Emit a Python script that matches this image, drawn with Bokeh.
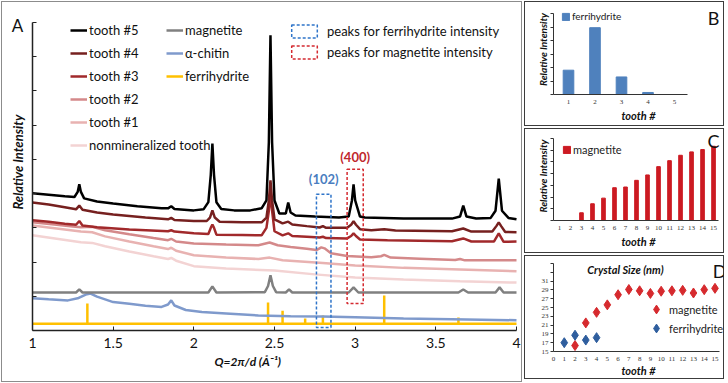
import math
from bokeh.plotting import figure
from bokeh.layouts import row, column
from bokeh.models import Range1d, FixedTicker, Legend, LegendItem, Label, Title
from bokeh.embed import file_html
from bokeh.resources import INLINE

SANS = "Lato"
SERIF = "Liberation Serif"

# ---------------- Panel A data: XRD patterns (Q in 1/Angstrom, offset relative intensity) -------------
Q_MIN, Q_MAX = 1.0, 4.0
I_MAX = 90
q_ticks = [1, 1.5, 2, 2.5, 3, 3.5, 4]

q_t5 = [1.00, 1.10, 1.20, 1.26, 1.28, 1.29, 1.30, 1.32, 1.40, 1.50, 1.65, 1.80, 1.84, 1.86, 1.88, 2.00,
        2.06, 2.09, 2.105, 2.115, 2.125, 2.14, 2.17, 2.25, 2.35, 2.42, 2.45, 2.465, 2.475, 2.485, 2.50,
        2.53, 2.57, 2.585, 2.60, 2.63, 2.75, 2.90, 2.96, 2.98, 2.99, 3.00, 3.03, 3.06, 3.30, 3.60, 3.65,
        3.67, 3.69, 3.75, 3.84, 3.87, 3.89, 3.91, 3.95, 4.00]
i_t5 = [40.1, 39.7, 39.2, 39.0, 40.5, 42.7, 40.5, 38.6, 37.7, 37.1, 36.3, 35.7, 35.7, 36.3, 35.5, 35.1,
        35.4, 37.5, 45.5, 54.6, 45.5, 37.5, 35.5, 35.1, 35.1, 35.7, 38.0, 55.0, 86.3, 55.0, 38.0,
        34.2, 34.2, 37.4, 34.5, 33.6, 33.3, 33.0, 33.3, 38.0, 42.7, 38.0, 33.3, 33.0, 32.7, 32.7, 33.3,
        36.5, 33.3, 32.7, 32.9, 35.0, 44.4, 35.0, 32.9, 32.5]

q_t4 = [1.00, 1.10, 1.20, 1.27, 1.29, 1.31, 1.40, 1.50, 1.70, 1.84, 1.86, 1.88, 2.00, 2.08, 2.10, 2.115,
        2.13, 2.16, 2.30, 2.42, 2.45, 2.465, 2.475, 2.485, 2.50, 2.55, 2.585, 2.61, 2.70, 2.78, 2.80, 2.82,
        2.95, 2.975, 2.99, 3.005, 3.03, 3.10, 3.18, 3.25, 3.60, 3.67, 3.72, 3.85, 3.875, 3.89, 3.905, 3.93,
        4.00]
i_t4 = [37.4, 36.8, 36.0, 35.4, 36.5, 35.3, 34.5, 33.9, 33.0, 32.5, 32.9, 32.3, 32.0, 32.0, 33.0, 35.1,
        33.0, 31.8, 31.6, 31.6, 33.0, 38.0, 43.9, 38.0, 32.5, 31.3, 31.8, 31.0, 30.5, 30.1, 30.5, 30.0,
        30.0, 30.9, 31.9, 30.9, 29.6, 29.3, 29.6, 29.2, 29.0, 29.8, 28.9, 28.9, 30.5, 31.6, 30.5, 28.8,
        28.7]

q_t3 = [1.00, 1.10, 1.20, 1.27, 1.29, 1.31, 1.40, 1.60, 1.84, 1.86, 1.88, 2.00, 2.09, 2.105, 2.115, 2.125,
        2.14, 2.30, 2.42, 2.45, 2.465, 2.475, 2.485, 2.50, 2.55, 2.585, 2.61, 2.70, 2.78, 2.80, 2.82, 2.95,
        2.975, 2.99, 3.005, 3.03, 3.20, 3.60, 3.67, 3.72, 3.86, 3.89, 3.92, 4.00]
i_t3 = [32.2, 31.8, 31.2, 30.9, 32.0, 30.7, 30.2, 29.5, 29.0, 29.3, 28.9, 28.4, 28.2, 30.0, 31.0, 30.0,
        28.0, 27.9, 27.8, 30.0, 35.0, 40.0, 35.0, 29.0, 27.8, 28.4, 27.6, 27.4, 27.2, 27.4, 27.0, 26.9,
        27.6, 28.4, 27.6, 26.6, 26.4, 26.1, 26.9, 26.0, 26.0, 28.4, 25.9, 26.0]

q_t2 = [1.00, 1.15, 1.25, 1.30, 1.37, 1.45, 1.60, 1.75, 1.84, 1.86, 1.89, 2.00, 2.20, 2.40, 2.47, 2.52,
        2.60, 2.70, 2.76, 2.79, 2.81, 2.85, 2.95, 3.10, 3.16, 3.18, 3.22, 3.40, 3.62, 3.65, 3.68, 4.00]
i_t2 = [31.6, 30.9, 30.4, 30.2, 30.3, 29.3, 28.1, 27.0, 26.4, 26.8, 26.0, 25.4, 25.1, 24.9, 25.7, 24.9,
        24.4, 23.9, 23.5, 24.3, 24.0, 22.6, 21.8, 21.4, 21.7, 22.1, 21.3, 21.0, 20.6, 20.9, 20.5, 20.5]

q_t1 = [1.00, 1.15, 1.30, 1.37, 1.45, 1.60, 1.75, 1.84, 1.86, 1.89, 2.00, 2.20, 2.40, 2.47, 2.55, 2.80,
        3.00, 3.30, 3.65, 4.00]
i_t1 = [30.7, 29.8, 28.9, 28.7, 27.5, 26.0, 24.6, 23.8, 24.2, 23.3, 22.0, 21.3, 20.9, 21.3, 20.5, 19.7,
        19.0, 18.3, 17.8, 17.3]

q_t0 = [1.00, 1.15, 1.30, 1.37, 1.45, 1.60, 1.75, 1.84, 1.86, 1.89, 2.00, 2.20, 2.50, 2.75, 3.00, 3.30,
        3.65, 4.00]
i_t0 = [27.8, 26.8, 25.8, 25.6, 24.6, 23.1, 21.7, 20.9, 21.2, 20.4, 18.8, 18.1, 17.5, 16.4, 15.5, 14.9,
        14.4, 14.0]

q_mag = [1.00, 1.27, 1.29, 1.31, 2.09, 2.115, 2.14, 2.44, 2.46, 2.475, 2.49, 2.51, 2.57, 2.59, 2.61, 2.96,
         2.99, 3.02, 3.64, 3.67, 3.70, 3.87, 3.895, 3.92, 4.00]
i_mag = [11.1, 11.1, 12.0, 11.1, 11.1, 12.9, 11.1, 11.2, 13.0, 16.1, 13.0, 11.2, 11.1, 12.0, 11.1, 11.1,
         12.6, 11.1, 11.1, 12.0, 11.1, 11.1, 12.6, 11.1, 11.1]

q_chitin = [1.00, 1.10, 1.22, 1.28, 1.33, 1.36, 1.40, 1.50, 1.60, 1.70, 1.80, 1.84, 1.86, 1.88, 1.95, 2.05,
            2.20, 2.40, 2.60, 2.80, 3.00, 3.30, 3.60, 4.00]
i_chitin = [9.4, 9.1, 8.8, 9.4, 10.5, 10.8, 9.9, 8.3, 7.8, 7.2, 6.9, 7.6, 8.8, 7.3, 6.0, 5.4,
            5.0, 4.4, 4.2, 4.1, 3.9, 3.5, 3.3, 3.0]

fh_q = [1.34, 2.46, 2.55, 2.69, 2.80, 3.18, 3.64]
fh_i = [7.9, 8.2, 5.8, 3.5, 4.4, 10.2, 3.8]
fh_base = 2.0

box_fh = dict(left=2.76, right=2.85, bottom=0.9, top=39.8)
box_mag = dict(left=2.95, right=3.05, bottom=7.9, top=47.1)
label_fh = dict(x=2.805, y=44.3, text="(102)")
label_mag = dict(x=3.0, y=50.6, text="(400)")

# ---------------- Panels B, C, D data -------------
teeth_b = [1, 2, 3, 4, 5]
fh_intensity = [1.8, 4.95, 1.3, 0.15, 0.0]

teeth_c = list(range(1, 16))
mag_intensity = [0.0, 0.0, 0.66, 1.43, 1.91, 2.8, 2.86, 3.43, 3.89, 4.6, 5.11, 5.57, 5.86, 6.06, 6.34]

teeth_d_mag = list(range(2, 16))
size_mag = [16.35, 21.5, 23.9, 25.6, 27.9, 29.1, 28.8, 28.2, 28.7, 28.8, 28.9, 28.3, 29.05, 29.35]
teeth_d_fh = [1, 2, 3, 4]
size_fh = [17.0, 18.7, 17.6, 18.15]
d_yticks = list(range(15, 36, 2))
d_ylabels_hidden = [33, 35]

# colours
C_T5, C_T4, C_T3, C_T2, C_T1, C_T0 = "#000000", "#76201F", "#A1292B", "#D4898A", "#E8B2B1", "#F3D3D3"
C_MAG, C_CHI, C_FH = "#808080", "#7F9ACC", "#FFC000"
C_BLUE_BOX, C_RED_BOX = "#2E74C9", "#D42A30"
C_BAR_B, C_BAR_C = "#4F81BD", "#CC1A22"
C_D_MAG, C_D_FH = "#D62A2E", "#2F5E9E"

A_STYLE = {"outline": "1.5px solid #8C8C8C", "outline-offset": "-2px"}
S_STYLE = {"outline": "1.5px solid #3C3C3C", "outline-offset": "-2px"}


def transparent(p):
    p.background_fill_color = None
    p.border_fill_color = None
    p.outline_line_color = None
    p.xgrid.grid_line_color = None
    p.ygrid.grid_line_color = None


# ================= Panel A =================
pA = figure(width=523, height=383, x_range=Range1d(0.8264, 4.031), y_range=Range1d(0, 95.26),
            output_backend="svg", toolbar_location=None, styles=A_STYLE,
            min_border_left=4, min_border_right=2, min_border_top=4, min_border_bottom=53)
transparent(pA)
xa = pA.xaxis[0]
xa.ticker = FixedTicker(ticks=q_ticks)
xa.bounds = (Q_MIN, Q_MAX)
xa.major_label_overrides = {1: "1", 2: "2", 3: "3", 4: "4"}
xa.major_tick_in = 4
xa.major_tick_out = 0
xa.minor_tick_line_color = None
xa.axis_line_width = 1.5
xa.axis_line_color = "#222222"
xa.major_tick_line_color = "#222222"
xa.major_label_text_font = SANS
xa.major_label_text_font_size = "14px"
xa.major_label_text_color = "#111111"
xa.major_label_standoff = 7
ya = pA.yaxis[0]
ya.fixed_location = Q_MIN
ya.bounds = (0, I_MAX)
ya.ticker = FixedTicker(ticks=list(range(0, I_MAX + 1, 10)))
ya.major_label_overrides = {v: "" for v in range(0, I_MAX + 1, 10)}
ya.major_label_standoff = 0
ya.major_tick_in = 4
ya.major_tick_out = 0
ya.minor_tick_line_color = None
ya.axis_line_width = 1.5
ya.axis_line_color = "#222222"
ya.major_tick_line_color = "#222222"

r_fh_base = pA.line([Q_MIN, Q_MAX], [fh_base, fh_base], line_color=C_FH, line_width=2.5)
r_fh = pA.segment(x0=fh_q, y0=[fh_base] * len(fh_q), x1=fh_q, y1=fh_i, line_color=C_FH, line_width=2.5)
r_chi = pA.line(q_chitin, i_chitin, line_color=C_CHI, line_width=2.5)
r_mag = pA.line(q_mag, i_mag, line_color=C_MAG, line_width=2.5)
r_t0 = pA.line(q_t0, i_t0, line_color=C_T0, line_width=2.5)
r_t1 = pA.line(q_t1, i_t1, line_color=C_T1, line_width=2.5)
r_t2 = pA.line(q_t2, i_t2, line_color=C_T2, line_width=2.5)
r_t3 = pA.line(q_t3, i_t3, line_color=C_T3, line_width=2.5)
r_t4 = pA.line(q_t4, i_t4, line_color=C_T4, line_width=2.5)
r_t5 = pA.line(q_t5, i_t5, line_color=C_T5, line_width=2.5)

r_bfh = pA.quad(left=[box_fh["left"]], right=[box_fh["right"]], bottom=[box_fh["bottom"]], top=[box_fh["top"]],
                fill_color=None, line_color=C_BLUE_BOX, line_width=1.5, line_dash="3 2")
r_bmag = pA.quad(left=[box_mag["left"]], right=[box_mag["right"]], bottom=[box_mag["bottom"]], top=[box_mag["top"]],
                 fill_color=None, line_color=C_RED_BOX, line_width=1.5, line_dash="3 2")

pA.add_layout(Label(x=label_fh["x"], y=label_fh["y"], text=label_fh["text"], text_align="center",
                    text_baseline="middle", text_font=SANS, text_font_size="13px", text_font_style="bold",
                    text_color="#4A7DC0"))
pA.add_layout(Label(x=label_mag["x"], y=label_mag["y"], text=label_mag["text"], text_align="center",
                    text_baseline="middle", text_font=SANS, text_font_size="13px", text_font_style="bold",
                    text_color="#C0272D"))


def mk_legend(items, loc, gw, gh, lh, spacing, standoff, size="13px"):
    return Legend(items=items, location=loc, glyph_width=gw, glyph_height=gh, label_height=lh,
                  spacing=spacing, padding=0, margin=0, label_standoff=standoff,
                  border_line_color=None, background_fill_alpha=0,
                  label_text_font=SANS, label_text_font_size=size, label_text_color="#111111")


pA.add_layout(mk_legend([LegendItem(label="tooth #5", renderers=[r_t5]),
                         LegendItem(label="tooth #4", renderers=[r_t4]),
                         LegendItem(label="tooth #3", renderers=[r_t3]),
                         LegendItem(label="tooth #2", renderers=[r_t2]),
                         LegendItem(label="tooth #1", renderers=[r_t1]),
                         LegendItem(label="nonmineralized tooth", renderers=[r_t0])],
                        (66, 175), 17, 20, 20, 3, 2))
pA.add_layout(mk_legend([LegendItem(label="magnetite", renderers=[r_mag]),
                         LegendItem(label="\u03b1-chitin", renderers=[r_chi]),
                         LegendItem(label="ferrihydrite", renderers=[r_fh_base])],
                        (162, 244), 17, 20, 20, 3, 2))
pA.add_layout(mk_legend([LegendItem(label="peaks for ferrihydrite intensity", renderers=[r_bfh]),
                         LegendItem(label="peaks for magnetite intensity", renderers=[r_bmag])],
                        (284, 270), 32, 16, 16, 5, 7))

pA.add_layout(Label(x=0.907, y=89.1, text="A", text_align="center",
                    text_baseline="middle", text_font=SANS, text_font_size="17px", text_color="#111111"))
pA.add_layout(Label(x=0.910, y=49.2, text="Relative Intensity",
                    angle=math.pi / 2, text_align="center", text_baseline="middle", text_font=SANS,
                    text_font_size="13px", text_font_style="bold italic", text_color="#111111"))
pA.add_layout(Title(text="Q=2\u03c0/d (\u00c5\u207b\u00b9)", align="left", offset=210, standoff=3,
                    text_font=SANS, text_font_size="12px", text_font_style="bold italic",
                    text_color="#111111"), "below")


# ================= helpers for small panels =================
def style_small(p, xticks, xbounds, yticks, ybounds, ylabels=True, hide=()):
    transparent(p)
    for ax in (p.xaxis[0], p.yaxis[0]):
        ax.axis_line_color = "#333333"
        ax.axis_line_width = 1
        ax.major_tick_line_color = "#333333"
        ax.minor_tick_line_color = None
        ax.major_label_text_font = SERIF
        ax.major_label_text_font_size = "7px"
        ax.major_label_text_color = "#333333"
        ax.axis_label_text_font = SANS
        ax.axis_label_text_font_style = "bold italic"
        ax.axis_label_text_font_size = "11px"
        ax.axis_label_text_color = "#111111"
    p.xaxis[0].ticker = FixedTicker(ticks=xticks)
    p.xaxis[0].bounds = xbounds
    p.xaxis[0].major_tick_in = 0
    p.xaxis[0].major_tick_out = 0
    p.xaxis[0].major_label_standoff = 5
    p.xaxis[0].axis_label_standoff = 2
    p.yaxis[0].ticker = FixedTicker(ticks=yticks)
    p.yaxis[0].bounds = ybounds
    p.yaxis[0].major_tick_in = 0
    p.yaxis[0].major_tick_out = 3
    p.yaxis[0].major_label_standoff = 2
    p.yaxis[0].axis_label_standoff = 2
    if not ylabels:
        p.yaxis[0].major_label_overrides = {v: "" for v in yticks}
    else:
        p.yaxis[0].major_label_overrides = {v: "" for v in hide}


def corner(p, x, y, t):
    p.add_layout(Label(x=x, y=y, x_units="screen", y_units="screen", text=t, text_align="center",
                       text_baseline="middle", text_font=SANS, text_font_size="18px", text_color="#111111"))


def small_legend(p, item, loc, g, lh, size):
    p.add_layout(Legend(items=[item], location=loc, glyph_width=g, glyph_height=g, label_height=lh,
                        padding=0, margin=0, label_standoff=2, border_line_color=None,
                        background_fill_alpha=0, label_text_font=SANS, label_text_font_size=size,
                        label_text_color="#222222"))


# ================= Panel B =================
pB = figure(width=202, height=127, x_range=Range1d(0.434, 6.849), y_range=Range1d(0, 6.667),
            output_backend="svg", toolbar_location=None, styles=S_STYLE,
            min_border_left=30, min_border_right=2, min_border_top=4, min_border_bottom=33)
style_small(pB, teeth_b, (0.434, 5.49), list(range(0, 7)), (0, 6), ylabels=False)
pB.xaxis[0].axis_label = "tooth #"
pB.yaxis[0].axis_label = "Relative Intensity"
pB.yaxis[0].axis_label_text_font_size = "10px"
rB = pB.vbar(x=teeth_b, top=fh_intensity, width=0.4, fill_color=C_BAR_B, line_color=C_BAR_B)
small_legend(pB, LegendItem(label="ferrihydrite", renderers=[rB]), (8, 72), 9, 12, "10px")
corner(pB, 160, 77, "B")

# ================= Panel C =================
pC = figure(width=202, height=127, x_range=Range1d(0.458, 15.905), y_range=Range1d(0, 7.6),
            output_backend="svg", toolbar_location=None, styles=S_STYLE,
            min_border_left=29, min_border_right=2, min_border_top=4, min_border_bottom=34)
style_small(pC, teeth_c, (0.458, 15.45), list(range(0, 8)), (0, 7), ylabels=False)
pC.xaxis[0].axis_label = "tooth #"
pC.yaxis[0].axis_label = "Relative Intensity"
pC.yaxis[0].axis_label_text_font_size = "10px"
rC = pC.vbar(x=teeth_c, top=mag_intensity, width=0.33, fill_color=C_BAR_C, line_color=C_BAR_C)
small_legend(pC, LegendItem(label="magnetite", renderers=[rC]), (9, 64), 9, 14, "11px")
corner(pC, 160, 80, "C")

# ================= Panel D =================
pD = figure(width=202, height=126, x_range=Range1d(0, 15.79), y_range=Range1d(15, 36.14),
            output_backend="svg", toolbar_location=None, styles=S_STYLE,
            min_border_left=20, min_border_right=2, min_border_top=4, min_border_bottom=29)
style_small(pD, list(range(0, 16)), (0, 15.44), d_yticks, (15, 35), ylabels=True, hide=d_ylabels_hidden)
pD.xaxis[0].axis_label = "tooth #"
pD.xaxis[0].axis_label_standoff = 0
rDm = pD.scatter(teeth_d_mag, size_mag, marker="diamond", size=10, fill_color=C_D_MAG, line_color=C_D_MAG)
rDf = pD.scatter(teeth_d_fh, size_fh, marker="diamond", size=10, fill_color=C_D_FH, line_color=C_D_FH)
small_legend(pD, LegendItem(label="magnetite", renderers=[rDm]), (92, 31), 22, 22, "11px")
small_legend(pD, LegendItem(label="ferrihydrite", renderers=[rDf]), (92, 12), 22, 22, "11px")
pD.add_layout(Label(x=72, y=82, x_units="screen", y_units="screen", text="Crystal Size (nm)",
                    text_align="center", text_baseline="middle", text_font=SANS, text_font_size="11px",
                    text_font_style="bold italic", text_color="#111111"))
corner(pD, 166, 81, "D")

layout = row(pA, column(pB, pC, pD))
open("out.html", "w").write(file_html(layout, INLINE))
